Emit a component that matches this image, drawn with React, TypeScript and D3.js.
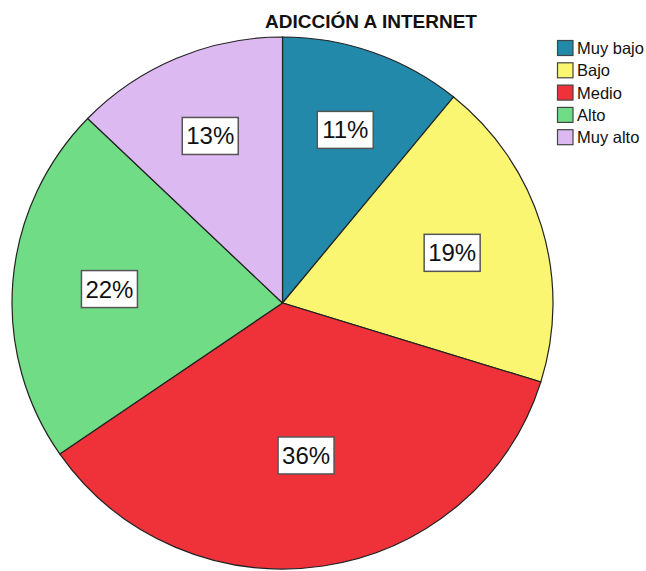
import React from "react";
import * as d3 from "d3";

const categories = ["Muy bajo", "Bajo", "Medio", "Alto", "Muy alto"];
const values = [10.9, 18.9, 35.6, 21.8, 12.8];
const pctLabels = ["11%", "19%", "36%", "22%", "13%"];
const colors = ["#2389AB", "#FAF672", "#EF313A", "#70DD86", "#DDB9F2"];
const title = "ADICCIÓN A INTERNET";

const W = 646;
const H = 571;
const cx = 282.5;
const cy = 303;
const rx = 270.5;
const ry = 266;
const FONT = "'Liberation Sans', Arial, sans-serif";

export default function App() {
  const pie = d3
    .pie<number>()
    .sort(null)
    .value((d) => d)
    .startAngle(0)
    .endAngle(2 * Math.PI);
  const arcs = pie(values);
  const arc = d3.arc<d3.PieArcDatum<number>>().innerRadius(0).outerRadius(rx);
  const total = d3.sum(values);
  // label distance shrinks for larger slices
  const labelR = d3.scaleLinear().domain([0, 100]).range([0.74, 0.29]);

  const legendY = d3.scaleBand<string>().domain(categories).range([39, 39 + 22.3 * categories.length]);

  return (
    <svg
      width={W}
      height={H}
      style={{ position: "absolute", left: 0, top: 0, background: "#fff" }}
      fontFamily={FONT}
    >
      <g transform={`translate(${cx},${cy}) scale(1,${ry / rx})`}>
        {arcs.map((a, i) => (
          <path
            key={i}
            d={arc(a) || ""}
            fill={colors[i]}
            stroke="#222"
            strokeWidth={1.2}
            vectorEffect="non-scaling-stroke"
          />
        ))}
      </g>
      {arcs.map((a, i) => {
        const m = (a.startAngle + a.endAngle) / 2;
        const r = labelR((values[i] / total) * 100);
        const x = cx + r * rx * Math.sin(m);
        const y = cy - r * ry * Math.cos(m);
        return (
          <g key={i} transform={`translate(${x},${y})`}>
            <rect x={-28} y={-18.5} width={56} height={37} fill="#fff" stroke="#555" strokeWidth={1.5} />
            <text textAnchor="middle" y={8.5} fontSize={24} fill="#111">
              {pctLabels[i]}
            </text>
          </g>
        );
      })}
      <text x={371} y={28} textAnchor="middle" fontSize={19} fontWeight="bold" fill="#111">
        {title}
      </text>
      {categories.map((c, i) => {
        const y = legendY(c) as number;
        return (
          <g key={c}>
            <rect x={557.5} y={y + 1.5} width={15.5} height={15} fill={colors[i]} stroke="#444" strokeWidth={1.2} />
            <text x={577} y={y + 15} fontSize={16.5} fill="#111">
              {c}
            </text>
          </g>
        );
      })}
    </svg>
  );
}
